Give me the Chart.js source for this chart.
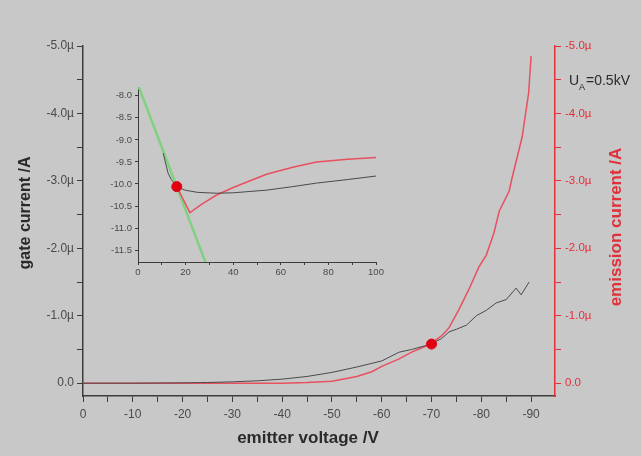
<!DOCTYPE html>
<html>
<head>
<meta charset="utf-8">
<script src="https://cdn.jsdelivr.net/npm/chart.js@4/dist/chart.umd.min.js"></script>
<style>
  html, body { margin: 0; padding: 0; background: #c8c8c8; }
  #wrap { position: relative; width: 641px; height: 456px; overflow: hidden; }
  #main { position: absolute; left: 0; top: 0; }
  #inset { position: absolute; left: 100px; top: 75px; }
</style>
</head>
<body>
<div id="wrap">
  <canvas id="main" width="641" height="456"></canvas>
  <canvas id="inset" width="290" height="210"></canvas>
</div>
<script>
// main plot: emitter voltage (V) vs currents (µA, negative)
const gateV = [0, -10, -20, -25, -30, -35, -40, -45, -50, -55, -60, -63.5, -66, -69.5, -72, -73.5, -75, -77, -79, -81, -83, -85, -87, -88, -89.6];
const gateI = [0, 0, -0.005, -0.01, -0.02, -0.035, -0.06, -0.1, -0.16, -0.24, -0.33, -0.46, -0.5, -0.57, -0.66, -0.76, -0.8, -0.86, -1.0, -1.08, -1.19, -1.24, -1.41, -1.31, -1.5];

const emisV = [0, -10, -20, -30, -40, -45, -50, -55, -58, -60, -63.5, -66, -69.5, -72, -73.5, -75.5, -77.5, -79.5, -81, -82.5, -83.6, -85.6, -86.2, -88.2, -89.5, -90];
const emisI = [0, 0, 0, 0, 0, -0.01, -0.03, -0.1, -0.17, -0.25, -0.36, -0.46, -0.57, -0.7, -0.82, -1.09, -1.39, -1.72, -1.9, -2.22, -2.55, -2.85, -3.05, -3.65, -4.3, -4.85];

const markV = [-70];
const markI = [-0.58];

// inset
const fitX = [0, 28.5];
const fitY = [-7.75, -11.8];
const inGateX = [10.6, 12.6, 14, 16.3, 19.7, 25, 33, 40, 47, 54, 65, 75, 88, 100];
const inGateY = [-9.3, -9.75, -9.9, -10.06, -10.14, -10.19, -10.21, -10.2, -10.17, -10.14, -10.06, -9.98, -9.9, -9.82];
const inEmisX = [16.3, 21.8, 27, 33, 40, 54, 65, 75, 88, 100];
const inEmisY = [-10.06, -10.65, -10.45, -10.25, -10.08, -9.78, -9.62, -9.5, -9.44, -9.4];
const inMarkX = [16.3];
const inMarkY = [-10.06];

const xTitle = 'emitter voltage /V';
const yTitle = 'gate current /A';
const y2Title = 'emission current /A';

const font = "'Liberation Sans', Arial, sans-serif";
const dark = '#3c3c3c';
const red = '#e0303a';

function pts(xs, ys) {
  return xs.map((x, i) => ({ x: x, y: ys[i] }));
}

function curLabel(v) {
  if (Math.abs(v % 1) > 0.01) return '';
  if (Math.abs(v) < 1e-9) return '0.0';
  return v.toFixed(1) + 'µ';
}

const titles = {
  id: 'titles',
  afterDraw(chart) {
    const c = chart.ctx;
    c.save();
    c.textAlign = 'center';
    c.textBaseline = 'middle';
    c.fillStyle = '#2a2a2a';
    c.font = 'bold 17px ' + font;
    c.fillText(xTitle, 308, 438);
    c.save();
    c.font = 'bold 16px ' + font;
    c.translate(26, 213);
    c.rotate(-Math.PI / 2);
    c.fillText(yTitle, 0, 0);
    c.restore();
    c.save();
    c.font = 'bold 17px ' + font;
    c.fillStyle = red;
    c.translate(616, 227);
    c.rotate(-Math.PI / 2);
    c.fillText(y2Title, 0, 0);
    c.restore();
    // U_A = 0.5kV
    c.textAlign = 'left';
    c.textBaseline = 'alphabetic';
    c.fillStyle = '#2a2a2a';
    c.font = '14px ' + font;
    c.fillText('U', 569, 85);
    c.font = '9px ' + font;
    c.fillText('A', 579, 90);
    c.font = '14px ' + font;
    c.fillText('=0.5kV', 586, 85);
    c.restore();
  }
};

new Chart(document.getElementById('main'), {
  type: 'line',
  data: {
    datasets: [
      { data: pts(markV, markI), yAxisID: 'y2', showLine: false, pointRadius: 5, pointBackgroundColor: '#e00010', pointBorderColor: '#e00010', order: 0 },
      { data: pts(gateV, gateI), yAxisID: 'y', borderColor: '#4a4a4a', borderWidth: 1, pointRadius: 0, tension: 0, order: 1 },
      { data: pts(emisV, emisI), yAxisID: 'y2', borderColor: '#e85060', borderWidth: 1.5, pointRadius: 0, tension: 0, order: 2 }
    ]
  },
  options: {
    responsive: false,
    animation: false,
    layout: { padding: { top: 46, left: 0, right: 0, bottom: 0 } },
    plugins: { legend: { display: false }, tooltip: { enabled: false } },
    scales: {
      x: {
        type: 'linear', reverse: true, min: -94.8, max: 0,
        afterFit: s => { s.height = 60; },
        border: { display: true, color: dark, width: 1.5 },
        grid: { drawOnChartArea: false, tickLength: 6, tickColor: dark },
        ticks: {
          stepSize: 5, includeBounds: false, padding: 5, autoSkip: false, maxRotation: 0,
          color: '#4a4a4a', font: { family: font, size: 12 },
          callback: v => (v % 10 === 0 ? String(v) : '')
        }
      },
      y: {
        position: 'left', reverse: true, min: -5, max: 0.19,
        afterFit: s => { s.width = 83; },
        border: { display: true, color: dark, width: 1.5 },
        grid: { drawOnChartArea: false, tickLength: 6, tickColor: dark },
        ticks: {
          stepSize: 0.5, includeBounds: false, padding: 3, autoSkip: false,
          color: '#4a4a4a', font: { family: font, size: 12 },
          callback: curLabel
        }
      },
      y2: {
        position: 'right', reverse: true, min: -5, max: 0.19,
        afterFit: s => { s.width = 86; },
        border: { display: true, color: red, width: 1.5 },
        grid: { drawOnChartArea: false, tickLength: 6, tickColor: red },
        ticks: {
          stepSize: 0.5, includeBounds: false, padding: 4, autoSkip: false,
          color: red, font: { family: font, size: 11.5 },
          callback: curLabel
        }
      }
    }
  },
  plugins: [titles]
});

new Chart(document.getElementById('inset'), {
  type: 'line',
  data: {
    datasets: [
      { data: pts(inMarkX, inMarkY), showLine: false, pointRadius: 5, pointBackgroundColor: '#e00010', pointBorderColor: '#e00010', order: 0 },
      { data: pts(inGateX, inGateY), borderColor: '#4a4a4a', borderWidth: 1, pointRadius: 0, order: 1 },
      { data: pts(inEmisX, inEmisY), borderColor: '#e85060', borderWidth: 1.5, pointRadius: 0, order: 2 },
      { data: pts(fitX, fitY), borderColor: 'rgba(120,210,120,0.9)', borderWidth: 2.5, pointRadius: 0, order: 3 }
    ]
  },
  options: {
    responsive: false,
    animation: false,
    layout: { padding: { top: 12, right: 14, left: 0, bottom: 0 } },
    plugins: { legend: { display: false }, tooltip: { enabled: false } },
    scales: {
      x: {
        type: 'linear', min: 0, max: 100,
        afterFit: s => { s.height = 23; },
        border: { display: true, color: dark, width: 1 },
        grid: { drawOnChartArea: false, tickLength: 3, tickColor: dark },
        ticks: {
          stepSize: 10, autoSkip: false, padding: 2, maxRotation: 0,
          color: '#4a4a4a', font: { family: font, size: 9.5 },
          callback: v => (v % 20 === 0 ? String(v) : '')
        }
      },
      y: {
        min: -11.77, max: -7.8,
        afterFit: s => { s.width = 38; },
        border: { display: true, color: dark, width: 1 },
        grid: { drawOnChartArea: false, tickLength: 3, tickColor: dark },
        ticks: {
          stepSize: 0.5, includeBounds: false, padding: 3, autoSkip: false,
          color: '#4a4a4a', font: { family: font, size: 9.5 },
          callback: v => v.toFixed(1)
        }
      }
    }
  }
});
</script>
</body>
</html>
